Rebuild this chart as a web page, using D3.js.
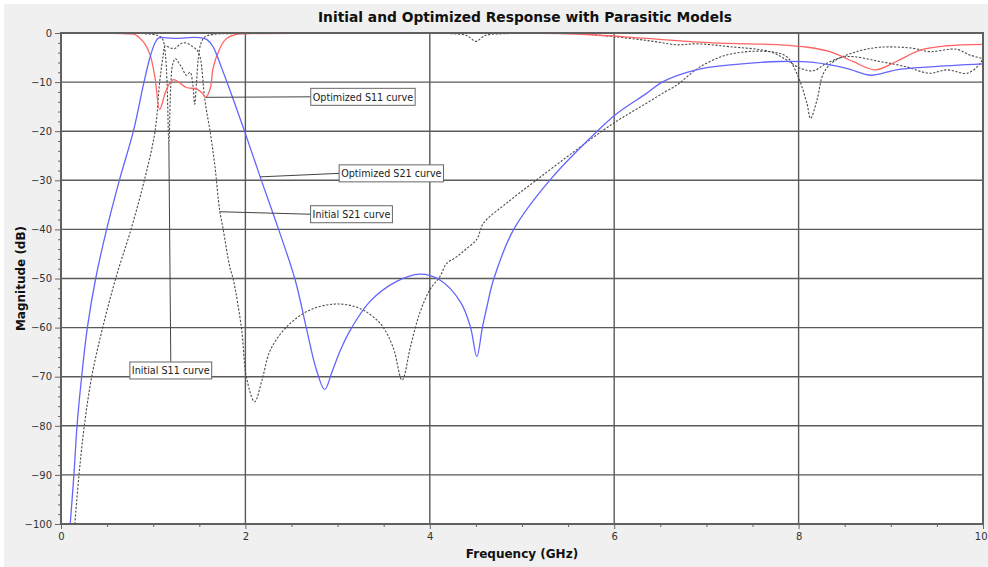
<!DOCTYPE html>
<html><head><meta charset="utf-8">
<script src="https://cdn.jsdelivr.net/npm/d3@7"></script>
<style>
html,body{margin:0;padding:0;background:#fff;}
svg{display:block;}
text{font-family:"DejaVu Sans",Verdana,sans-serif;}
</style></head>
<body>
<svg id="c" width="988" height="567"></svg>
<script>
// ---------------- DATA ----------------
const title = "Initial and Optimized Response with Parasitic Models";
const xLabel = "Frequency (GHz)";
const yLabel = "Magnitude (dB)";
const xTicks = [0, 2, 4, 6, 8, 10];
const yTicks = [0, -10, -20, -30, -40, -50, -60, -70, -80, -90, -100];

// Optimized S21 (blue, solid)  [GHz, dB]
const optS21 = [[0.10,-100],[0.14,-90],[0.174,-80],[0.224,-70],[0.286,-60],[0.376,-50],[0.495,-40],[0.633,-30],[0.785,-20],[0.90,-10],[0.965,-5],[1.02,-2],[1.06,-1.0],[1.15,-1.0],[1.25,-1.1],[1.35,-1.0],[1.45,-0.9],[1.53,-1.0],[1.58,-1.3],[1.65,-2.8],[1.69,-4.5],[1.74,-7],[1.80,-10],[1.87,-13.6],[2.0,-20.5],[2.16,-29.3],[2.36,-40],[2.54,-50.3],[2.66,-60],[2.77,-68.6],[2.86,-72.6],[2.94,-69],[3.03,-64.6],[3.15,-60.1],[3.35,-54.7],[3.64,-50.6],[3.89,-49.1],[4.11,-50.3],[4.33,-54.7],[4.44,-59.8],[4.51,-65.9],[4.57,-60],[4.62,-55.7],[4.69,-50.3],[4.91,-40],[5.30,-30],[5.81,-20.1],[6.03,-16.4],[6.35,-12.3],[6.53,-9.9],[6.89,-7.5],[7.26,-6.5],[7.80,-5.8],[8.16,-6.0],[8.52,-7.2],[8.79,-8.6],[9.06,-7.5],[9.43,-6.9],[10,-6.3]];

// Optimized S11 (red, solid)
const optS11 = [[0,-0.05],[0.5,-0.08],[0.7,-0.15],[0.80,-0.3],[0.89,-1.7],[0.965,-4.4],[1.02,-9.2],[1.07,-15.6],[1.13,-12.2],[1.18,-10.2],[1.22,-9.5],[1.29,-10.2],[1.36,-11.1],[1.47,-11.4],[1.53,-12.2],[1.57,-13.1],[1.62,-11.2],[1.65,-7.1],[1.71,-3.7],[1.78,-1.4],[1.89,-0.35],[2.0,-0.15],[3,-0.05],[4,-0.05],[5,-0.08],[5.6,-0.2],[6.35,-1.1],[7.07,-2.0],[7.8,-2.4],[8.1,-2.9],[8.34,-3.8],[8.59,-5.8],[8.83,-7.5],[9.06,-5.8],[9.32,-3.5],[9.61,-2.6],[10,-2.3]];

// Initial S21 (black, dashed)
const iniS21 = [[0.15,-100],[0.195,-90],[0.253,-80],[0.333,-70],[0.452,-60],[0.593,-50],[0.759,-40],[0.904,-30],[1.02,-20],[1.07,-10],[1.105,-5],[1.13,-2.6],[1.16,-2.8],[1.20,-3.1],[1.24,-3.1],[1.29,-2.3],[1.33,-2.0],[1.38,-2.2],[1.43,-2.8],[1.48,-3.6],[1.51,-5],[1.56,-13.6],[1.62,-20.4],[1.67,-27.2],[1.72,-36],[1.76,-40.1],[1.83,-47.6],[1.87,-50.3],[1.96,-60.5],[2.01,-70],[2.10,-75.1],[2.18,-70.7],[2.27,-64.6],[2.45,-59.8],[2.70,-56.4],[2.99,-55.2],[3.24,-56.1],[3.46,-59.1],[3.60,-63.9],[3.70,-70.7],[3.79,-63.9],[3.89,-57.1],[4.0,-52.3],[4.11,-49.6],[4.18,-47],[4.29,-45.6],[4.40,-43.9],[4.51,-42],[4.58,-38.8],[4.83,-34.7],[5.16,-29.9],[5.59,-23.8],[5.99,-18.4],[6.35,-14.3],[6.55,-12],[6.68,-10.6],[6.79,-8.9],[6.93,-6.9],[7.18,-4.7],[7.44,-3.8],[7.73,-3.9],[7.87,-4.8],[7.98,-8.2],[8.09,-14.3],[8.13,-17.4],[8.20,-13.6],[8.27,-8.2],[8.38,-5.8],[8.63,-3.8],[8.88,-2.9],[9.24,-3.1],[9.42,-3.8],[9.71,-3.3],[9.86,-4.5],[10,-5.2]];

// Initial S11 (black, dashed)
const iniS11 = [[0,-0.01],[0.5,-0.03],[0.9,-0.15],[1.05,-0.5],[1.10,-1.2],[1.13,-4],[1.15,-10],[1.17,-22.4],[1.19,-11],[1.21,-6.5],[1.24,-5.2],[1.28,-6.2],[1.31,-7.0],[1.36,-8.6],[1.40,-8.0],[1.43,-10.5],[1.45,-14.5],[1.47,-10],[1.49,-5],[1.52,-2.0],[1.56,-0.8],[1.65,-0.3],[2.0,-0.1],[3,-0.05],[4.2,-0.1],[4.4,-0.5],[4.5,-1.7],[4.6,-0.5],[4.8,-0.15],[5.63,-0.2],[6.17,-1.1],[6.46,-1.8],[6.68,-2.4],[6.89,-2.2],[7.26,-2.8],[7.69,-3.8],[7.87,-5.5],[8.02,-7.2],[8.16,-7.7],[8.30,-6.2],[8.52,-4.8],[8.88,-5.8],[9.17,-6.9],[9.42,-8.2],[9.61,-7.5],[9.83,-8.2],[9.97,-6.2],[10,-5]];

// Annotation labels and the curve points they mark [GHz, dB]
const labelTexts = ["Optimized S11 curve", "Optimized S21 curve", "Initial S21 curve", "Initial S11 curve"];
const labelAnchors = [[1.57,-13.1],[2.16,-29.3],[1.72,-36.4],[1.17,-22.4]];

// ---------------- LAYOUT ----------------
const W = 988, H = 567;
const L = 61, R = 983, T = 33, B = 524;
const svg = d3.select("#c");

svg.append("rect").attr("x",4).attr("y",4).attr("width",W-4).attr("height",H-4).attr("fill","#f0f0f0");
svg.append("rect").attr("x",L).attr("y",T).attr("width",R-L).attr("height",B-T).attr("fill","#fff");

const x = d3.scaleLinear().domain([0,10]).range([L,R]);
const y = d3.scaleLinear().domain([-100,0]).range([B,T]);

// grid
const grid = svg.append("g").attr("stroke","#5a5a5a").attr("stroke-width",1.4);
grid.selectAll(".gx").data(xTicks.filter(d=>d>0&&d<10)).enter().append("line")
  .attr("x1",d=>x(d)).attr("x2",d=>x(d)).attr("y1",T).attr("y2",B);
grid.selectAll(".gy").data(yTicks.filter(d=>d<0&&d>-100)).enter().append("line")
  .attr("y1",d=>y(d)).attr("y2",d=>y(d)).attr("x1",L).attr("x2",R);

// axes
const xAxis = d3.axisBottom(x).tickValues(xTicks).tickSize(5).tickPadding(4).tickFormat(d3.format("d"));
const xMinor = d3.axisBottom(x).tickValues(d3.range(0,10.01,0.5).filter(d=>d%2!==0)).tickSize(3).tickFormat("");
const yAxis = d3.axisLeft(y).tickValues(yTicks).tickSize(6).tickPadding(3).tickFormat(d3.format("d"));
const yMinor = d3.axisLeft(y).tickValues(d3.range(-100,0.01,2).filter(d=>d%10!==0)).tickSize(3).tickFormat("");

function styleAxis(g){
  g.select(".domain").remove();
  g.selectAll("line").attr("stroke","#666").attr("stroke-width",1);
  g.selectAll("text").attr("fill","#333").style("font-size","10px").style("font-family","'DejaVu Sans',Verdana,sans-serif");
}
const gx = svg.append("g").attr("transform",`translate(0,${B})`).call(xAxis).call(styleAxis);
// keep the last label inside the window
gx.selectAll(".tick text").filter(d=>d===10).attr("text-anchor","end").attr("dx","4");
svg.append("g").attr("transform",`translate(0,${B})`).call(xMinor).call(styleAxis);
svg.append("g").attr("transform",`translate(${L},0)`).call(yAxis).call(styleAxis);
svg.append("g").attr("transform",`translate(${L},0)`).call(yMinor).call(styleAxis);

// clip
svg.append("clipPath").attr("id","clip").append("rect").attr("x",L).attr("y",T-1).attr("width",R-L).attr("height",B-T+1);

const line = d3.line().x(d=>x(d[0])).y(d=>y(d[1])).curve(d3.curveCatmullRom.alpha(0.5));
const curves = svg.append("g").attr("clip-path","url(#clip)");
curves.append("path").datum(iniS11).attr("d",line).attr("fill","none").attr("stroke","#4a4a4a").attr("stroke-width",1.1).attr("stroke-dasharray","2.2,1.6");
curves.append("path").datum(iniS21).attr("d",line).attr("fill","none").attr("stroke","#4a4a4a").attr("stroke-width",1.1).attr("stroke-dasharray","2.2,1.6");
curves.append("path").datum(optS11).attr("d",line).attr("fill","none").attr("stroke","#ff6464").attr("stroke-width",1.3);
curves.append("path").datum(optS21).attr("d",line).attr("fill","none").attr("stroke","#6464ff").attr("stroke-width",1.3);

// frame
svg.append("rect").attr("x",L).attr("y",T).attr("width",R-L).attr("height",B-T)
  .attr("fill","none").attr("stroke","#606060").attr("stroke-width",2);

// annotations: box top-left offsets (px) relative to anchor
const boxOffsets = [[105,-9],[79,-12],[91,-6],[-39,219]];
const ann = svg.append("g");
labelTexts.forEach((t,i)=>{
  const ax = x(labelAnchors[i][0]), ay = y(labelAnchors[i][1]);
  const bx = ax + boxOffsets[i][0], by = ay + boxOffsets[i][1];
  const g = ann.append("g");
  const txt = g.append("text").attr("x",bx+2).attr("y",by+12.5).text(t)
    .style("font-size","9.6px").attr("fill","#222");
  const tw = txt.node().getComputedTextLength();
  const bw = tw+4, bh = 17;
  let lx, ly;
  if (i===3){ lx = bx + bw/2; ly = by; } else { lx = bx; ly = by + bh/2; }
  g.insert("line","text").attr("x1",ax).attr("y1",ay).attr("x2",lx).attr("y2",ly).attr("stroke","#444").attr("stroke-width",1);
  g.insert("rect","text").attr("x",bx).attr("y",by).attr("width",bw).attr("height",bh)
    .attr("fill","#fff").attr("stroke","#666").attr("stroke-width",1);
});

// titles
svg.append("text").attr("x",(L+R)/2+3).attr("y",22).attr("text-anchor","middle")
  .style("font-size","13.8px").style("font-weight","bold").attr("fill","#111").text(title);
svg.append("text").attr("x",(L+R)/2).attr("y",558).attr("text-anchor","middle")
  .style("font-size","12px").style("font-weight","bold").attr("fill","#111").text(xLabel);
svg.append("text").attr("transform",`translate(25,${(T+B)/2}) rotate(-90)`).attr("text-anchor","middle")
  .style("font-size","12px").style("font-weight","bold").attr("fill","#111").text(yLabel);
</script>
</body></html>
